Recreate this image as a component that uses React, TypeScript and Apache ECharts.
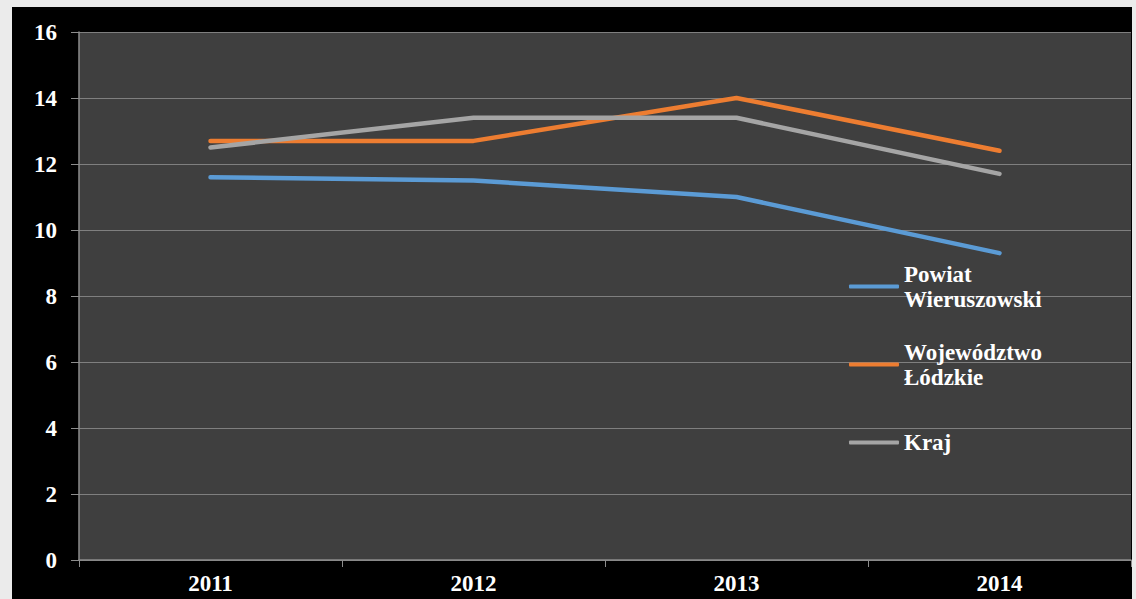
import React, { useEffect, useRef } from "react";
import * as echarts from "echarts";

const categories = ["2011", "2012", "2013", "2014"];
const seriesNames = ["Powiat Wieruszowski", "Województwo Łódzkie", "Kraj"];
const powiat = [11.6, 11.5, 11.0, 9.3];
const wojewodztwo = [12.7, 12.7, 14.0, 12.4];
const kraj = [12.5, 13.4, 13.4, 11.7];
const colors = ["#5b9bd5", "#ed7d31", "#a5a5a5"];

export default function App() {
  const ref = useRef<HTMLDivElement>(null);
  useEffect(() => {
    document.body.style.margin = "0";
    const chart = echarts.init(ref.current!, null, { renderer: "svg" });
    const font = "'Liberation Serif', 'Times New Roman', serif";
    const L = 25;
    const values = [powiat, wojewodztwo, kraj];
    chart.setOption({
      animation: false,
      backgroundColor: "#ebebeb",
      graphic: [
        {
          type: "rect",
          z: -10,
          silent: true,
          shape: { x: 12, y: 7, width: 1120, height: 600 },
          style: { fill: "#000000" },
        },
      ],
      grid: {
        left: 79,
        top: 32,
        right: 5,
        bottom: 39,
        show: true,
        backgroundColor: "#3f3f3f",
        borderWidth: 0,
      },
      legend: {
        orient: "vertical",
        left: 849,
        top: 249,
        padding: 0,
        itemWidth: 50,
        itemHeight: 4,
        itemGap: 3,
        icon: "roundRect",
        formatter: (n: string) => n.replace(" ", "\n"),
        textStyle: {
          color: "#ffffff",
          fontFamily: font,
          fontWeight: "bold",
          fontSize: 23,
          lineHeight: L,
        },
        data: [
          { name: seriesNames[0], textStyle: { padding: [L, 0, 0, 0] } },
          { name: seriesNames[1], textStyle: { padding: [L, 0, 0, 0] } },
          { name: seriesNames[2], textStyle: { padding: [L, 0, L, 0] } },
        ],
      },
      xAxis: {
        type: "category",
        data: categories,
        boundaryGap: true,
        axisLine: { show: true, lineStyle: { color: "#8c8c8c", width: 1.5 } },
        axisTick: { show: true, length: 7, lineStyle: { color: "#8c8c8c" } },
        axisLabel: {
          color: "#ffffff",
          fontFamily: font,
          fontWeight: "bold",
          fontSize: 23,
          margin: 12,
        },
        splitLine: { show: false },
      },
      yAxis: {
        type: "value",
        min: 0,
        max: 16,
        interval: 2,
        axisLine: { show: true, lineStyle: { color: "#8c8c8c", width: 1.5 } },
        axisTick: { show: true, length: 8, lineStyle: { color: "#8c8c8c" } },
        axisLabel: {
          color: "#ffffff",
          fontFamily: font,
          fontWeight: "bold",
          fontSize: 23,
          margin: 22,
        },
        splitLine: { show: true, lineStyle: { color: "#7f7f7f", width: 1 } },
      },
      series: seriesNames.map((name, i) => ({
        name,
        type: "line",
        data: values[i],
        symbol: "none",
        color: colors[i],
        lineStyle: { width: 4.5, color: colors[i], cap: "round", join: "round" },
      })),
    });
    return () => chart.dispose();
  }, []);
  return <div ref={ref} style={{ width: 1136, height: 599 }} />;
}
